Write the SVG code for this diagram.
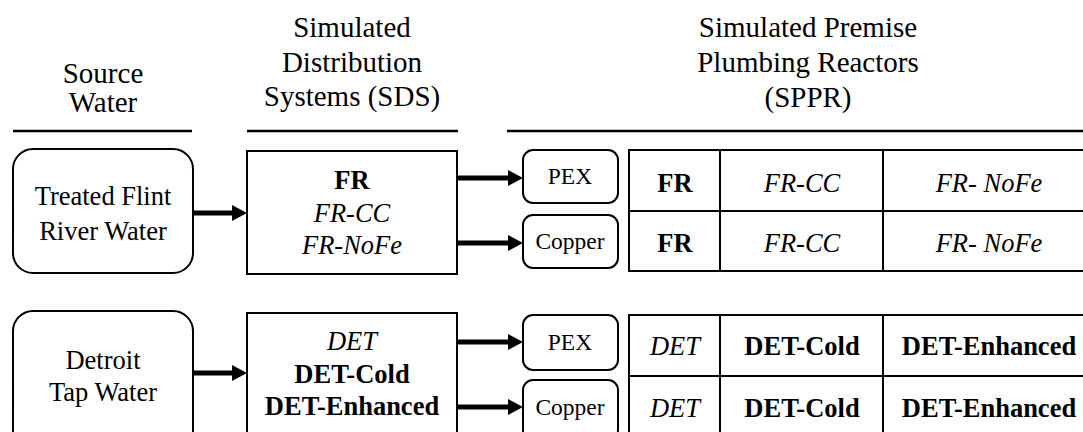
<svg xmlns="http://www.w3.org/2000/svg" width="1083" height="432" viewBox="0 0 1083 432">
<defs>
<style>
text{font-family:'Liberation Serif','Times New Roman',serif;fill:#000;text-anchor:middle}
.h{font-size:29px}
.b{font-size:26.5px}
.s{font-size:23.5px}
.bd{font-weight:bold}
.it{font-style:italic}
.box{fill:#fff;stroke:#000;stroke-width:2}
.rule{stroke:#000;stroke-width:2.5}
.cn{stroke:#000;stroke-width:5;fill:none}
.grid{stroke:#000;stroke-width:2;fill:none}
</style>
<marker id="ah" markerWidth="3" markerHeight="3.2" refX="0" refY="1.6" orient="auto" markerUnits="strokeWidth">
<path d="M0,0 L3,1.6 L0,3.2 Z" fill="#000"/>
</marker>
</defs>
<rect width="1083" height="432" fill="#fff"/>
<g id="headers">
<text class="h" x="103" y="83">Source</text>
<text class="h" x="103" y="112">Water</text>
<line class="rule" x1="13" y1="131" x2="192" y2="131"/>
<text class="h" x="352" y="37">Simulated</text>
<text class="h" x="352" y="72">Distribution</text>
<text class="h" x="352" y="106">Systems (SDS)</text>
<line class="rule" x1="247" y1="131" x2="458" y2="131"/>
<text class="h" x="808" y="37">Simulated Premise</text>
<text class="h" x="808" y="72">Plumbing Reactors</text>
<text class="h" x="808" y="107">(SPPR)</text>
<line class="rule" x1="507" y1="131" x2="1083" y2="131"/>
</g>
<g id="connectors">
<line class="cn" x1="193" y1="213" x2="232" y2="213" marker-end="url(#ah)"/>
<line class="cn" x1="458" y1="178" x2="508" y2="178" marker-end="url(#ah)"/>
<line class="cn" x1="458" y1="243" x2="508" y2="243" marker-end="url(#ah)"/>
<line class="cn" x1="193" y1="373" x2="232" y2="373" marker-end="url(#ah)"/>
<line class="cn" x1="458" y1="342" x2="508" y2="342" marker-end="url(#ah)"/>
<line class="cn" x1="458" y1="407" x2="508" y2="407" marker-end="url(#ah)"/>
</g>
<g id="flint-source">
<rect class="box" x="13" y="149" width="180" height="124" rx="20"/>
<text class="b" x="103" y="205">Treated Flint</text>
<text class="b" x="103" y="240">River Water</text>
</g>
<g id="flint-sds">
<rect class="box" x="247" y="151" width="210" height="123"/>
<text class="b bd" x="352" y="189">FR</text>
<text class="b it" x="352" y="222">FR-CC</text>
<text class="b it" x="352" y="254">FR-NoFe</text>
</g>
<g id="flint-pex">
<rect class="box" x="523" y="150" width="95" height="53" rx="10"/>
<text class="s" x="570" y="184">PEX</text>
</g>
<g id="flint-copper">
<rect class="box" x="523" y="215" width="95" height="53" rx="10"/>
<text class="s" x="570" y="249">Copper</text>
</g>
<g id="flint-sppr">
<rect class="grid" x="629" y="150" width="466" height="121"/>
<line class="grid" x1="629" y1="211" x2="1095" y2="211"/>
<line class="grid" x1="720" y1="150" x2="720" y2="271"/>
<line class="grid" x1="883" y1="150" x2="883" y2="271"/>
<text class="b bd" x="675" y="192">FR</text>
<text class="b it" x="802" y="192">FR-CC</text>
<text class="b it" x="989" y="192">FR- NoFe</text>
<text class="b bd" x="675" y="252">FR</text>
<text class="b it" x="802" y="252">FR-CC</text>
<text class="b it" x="989" y="252">FR- NoFe</text>
</g>
<g id="detroit-source">
<rect class="box" x="13" y="311" width="180" height="150" rx="20"/>
<text class="b" x="103" y="369">Detroit</text>
<text class="b" x="103" y="401">Tap Water</text>
</g>
<g id="detroit-sds">
<rect class="box" x="247" y="313" width="210" height="150"/>
<text class="b it" x="352" y="350">DET</text>
<text class="b bd" x="352" y="383">DET-Cold</text>
<text class="b bd" x="352" y="415">DET-Enhanced</text>
</g>
<g id="detroit-pex">
<rect class="box" x="523" y="315" width="95" height="55" rx="10"/>
<text class="s" x="570" y="350">PEX</text>
</g>
<g id="detroit-copper">
<rect class="box" x="523" y="380" width="95" height="60" rx="10"/>
<text class="s" x="570" y="415">Copper</text>
</g>
<g id="detroit-sppr">
<rect class="grid" x="629" y="315" width="466" height="125"/>
<line class="grid" x1="629" y1="376" x2="1095" y2="376"/>
<line class="grid" x1="720" y1="315" x2="720" y2="440"/>
<line class="grid" x1="883" y1="315" x2="883" y2="440"/>
<text class="b it" x="675" y="355">DET</text>
<text class="b bd" x="802" y="355">DET-Cold</text>
<text class="b bd" x="989" y="355">DET-Enhanced</text>
<text class="b it" x="675" y="417">DET</text>
<text class="b bd" x="802" y="417">DET-Cold</text>
<text class="b bd" x="989" y="417">DET-Enhanced</text>
</g>
</svg>
